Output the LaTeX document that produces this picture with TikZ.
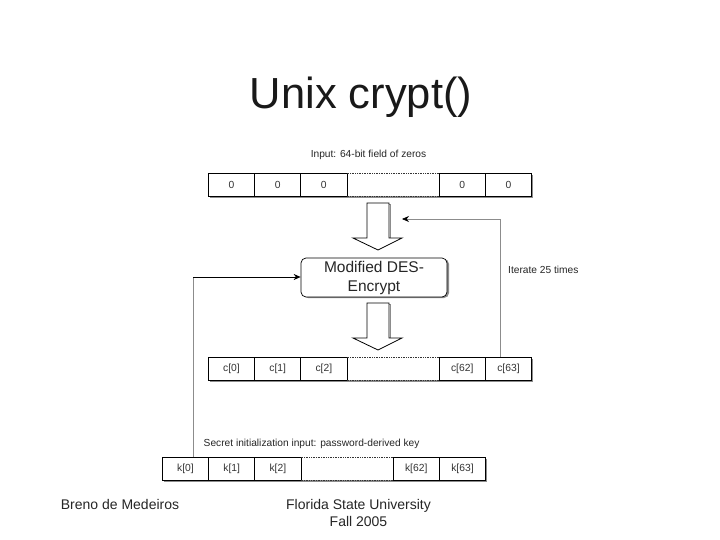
\documentclass[tikz,border=0pt]{standalone}
\usepackage{fontspec}
\setmainfont{Liberation Sans}
\usetikzlibrary{arrows.meta}
\definecolor{conn}{gray}{0.55}
\tikzset{
  x=1pt,y=-1pt,
  cell/.style={draw=black,line width=0.7pt,minimum width=46.2pt,minimum height=23pt,inner sep=0pt,anchor=north west,font=\fontsize{10.3}{12}\selectfont,text=black!80},
  gapcell/.style={minimum width=92.2pt,minimum height=23pt,inner sep=0pt,anchor=north west,draw=none,fill=white},
  dots/.style={line width=0.7pt,densely dotted,black!80},
  bigarrow/.style={draw=black,line width=0.8pt,fill=white},
  caption/.style={font=\fontsize{10.2}{12}\selectfont,text=black!85,inner sep=0pt},
  foot/.style={font=\fontsize{14}{17}\selectfont,text=black!85,inner sep=0pt,align=center},
  feed/.style={draw=conn,line width=0.7pt},
  tip/.style={-{Stealth[length=7pt,width=6pt,color=black]}}
}
\newcommand{\cellrow}[8]{%
  \fill[black!45] (#2+2,#3+23) rectangle (#2+325,#3+25);
  \fill[black!45] (#2+323,#3+2) rectangle (#2+325,#3+25);
  \fill[white] (#2,#3) rectangle (#2+323,#3+23);
  \node[gapcell] (#1g) at (#2+138.6,#3) {};
  \node[cell] (#1a) at (#2,#3) {#4};
  \node[cell] (#1b) at (#2+46.2,#3) {#5};
  \node[cell] (#1c) at (#2+92.4,#3) {#6};
  \node[cell] (#1d) at (#2+230.8,#3) {#7};
  \node[cell] (#1e) at (#2+277,#3) {#8};
  \draw[dots] (#1g.north west) -- (#1g.north east);
  \draw[dots] (#1g.south west) -- (#1g.south east);
}
\begin{document}
\begin{tikzpicture}
\useasboundingbox (0,0) rectangle (720,540);
\fill[white] (0,0) rectangle (720,540);
\node[inner sep=0pt,font=\fontsize{43.5}{50}\selectfont,text=black!90] (title) at (361,97) {Unix crypt()};
\node[caption] (inlabel) at (368.5,154.5) {Input: 64-bit field of zeros};
\cellrow{r}{208}{173}{0}{0}{0}{0}{0}
\cellrow{c}{208}{357}{c[0]}{c[1]}{c[2]}{c[62]}{c[63]}
\cellrow{k}{162}{457}{k[0]}{k[1]}{k[2]}{k[62]}{k[63]}
\draw[black!45,line width=1.2pt] (369,204.5) -- (390.5,204.5) -- (390.5,238);
\draw[bigarrow] (367,203) -- (389,203) -- (389,238) -- (402,238) -- (378,250) -- (353,238) -- (367,238) -- cycle;
\draw[black!45,line width=1.2pt] (369,304.5) -- (390.5,304.5) -- (390.5,338);
\draw[bigarrow] (367,303) -- (389,303) -- (389,338) -- (402,338) -- (378,350) -- (353,338) -- (367,338) -- cycle;
\fill[black!45,rounded corners=5pt] (303,259) rectangle (449,298);
\node[draw=black,line width=0.7pt,fill=white,rounded corners=5pt,minimum width=146pt,minimum height=39pt,inner sep=0pt,align=center,font=\fontsize{15.5}{19}\selectfont,text=black!85] (des) at (374,277.5) {Modified DES-\\Encrypt};
\node[caption,anchor=west] (iter) at (508,269.5) {Iterate 25 times};
\node[caption,anchor=west] (seclabel) at (203.5,443.5) {Secret initialization input: password-derived key};
\coordinate (fbstart) at (500,357);
\coordinate (fbend) at (402,219);
\draw[feed,tip] (fbstart) -- (fbstart |- fbend) -- (fbend);
\coordinate (kstart) at (193,457);
\coordinate (kturn) at (193,277);
\draw[feed] (kstart) -- (kturn);
\draw[line width=0.7pt,tip] (kturn) -- (kturn -| des.west);
\node[foot] (fa) at (120,504.5) {Breno de Medeiros};
\node[foot] (fb) at (358.5,513) {Florida State University\\Fall 2005};
\end{tikzpicture}
\end{document}
